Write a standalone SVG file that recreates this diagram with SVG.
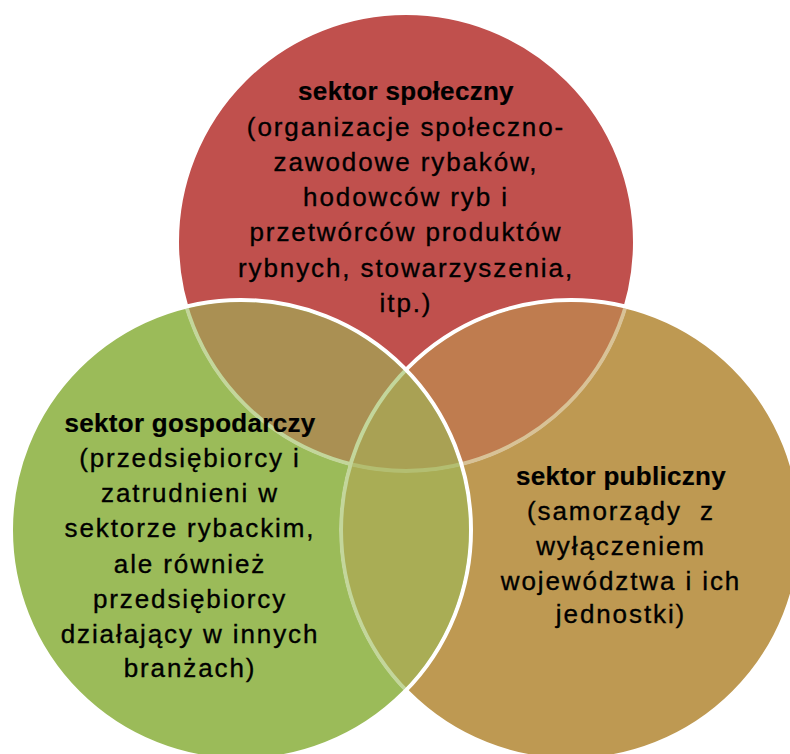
<svg xmlns="http://www.w3.org/2000/svg" xmlns:xlink="http://www.w3.org/1999/xlink" width="790" height="754" viewBox="0 0 790 754">
<style>
.t{font-family:"Liberation Sans",Arial,sans-serif;font-size:26px;fill:#000;stroke:#000;stroke-width:0.35px;text-anchor:middle;letter-spacing:1.9px}
.h{font-weight:bold;letter-spacing:0.3px;stroke-width:0.2px}
.c{stroke:#fff;stroke-width:4}
.r{fill:#C0504D}
.o{fill:#BE9952}
.g{fill:#9BBB59}
</style>
<defs>
<circle id="cR" cx="406" cy="242" r="229"/>
<circle id="cO" cx="571" cy="530" r="230"/>
<circle id="cG" cx="241" cy="530" r="230"/>
<clipPath id="inO"><circle cx="571" cy="530" r="228"/></clipPath>
<clipPath id="inG"><circle cx="241" cy="530" r="228"/></clipPath>
<clipPath id="outR"><circle cx="406" cy="242" r="231"/></clipPath>
<clipPath id="outRO"><circle cx="406" cy="242" r="231"/><circle cx="571" cy="530" r="232"/></clipPath>
</defs>
<g id="lower">
<g id="node-spoleczny">
<use href="#cR" class="c r"/>
<text class="t h" x="406" y="100">sektor społeczny</text>
<text class="t" x="406" y="136">(organizacje społeczno-</text>
<text class="t" x="406" y="171">zawodowe rybaków,</text>
<text class="t" x="406" y="206">hodowców ryb i</text>
<text class="t" x="406" y="241">przetwórców produktów</text>
<text class="t" x="406" y="277">rybnych, stowarzyszenia,</text>
<text class="t" x="406" y="312">itp.)</text>
</g>
<g id="node-publiczny">
<use href="#cO" class="c o"/>
<text class="t h" x="621" y="485">sektor publiczny</text>
<text class="t" x="621" y="520" style="white-space:pre">(samorządy  z</text>
<text class="t" x="621" y="555">wyłączeniem</text>
<text class="t" x="621" y="590">województwa i ich</text>
<text class="t" x="621" y="623">jednostki)</text>
</g>
<g id="overlap-ro" clip-path="url(#inO)"><g clip-path="url(#outR)" opacity="0.4"><use href="#cR" class="c r"/></g></g>
</g>
<g id="node-gospodarczy">
<use href="#cG" class="c g"/>
<g id="overlap-g" clip-path="url(#inG)"><g clip-path="url(#outRO)" opacity="0.4"><use href="#lower"/></g></g>
<text class="t h" x="190" y="432">sektor gospodarczy</text>
<text class="t" x="190" y="467">(przedsiębiorcy i</text>
<text class="t" x="190" y="502">zatrudnieni w</text>
<text class="t" x="190" y="537">sektorze rybackim,</text>
<text class="t" x="190" y="573">ale również</text>
<text class="t" x="190" y="608">przedsiębiorcy</text>
<text class="t" x="190" y="643">działający w innych</text>
<text class="t" x="190" y="677">branżach)</text>
</g>
<g id="connectors"/>
</svg>
